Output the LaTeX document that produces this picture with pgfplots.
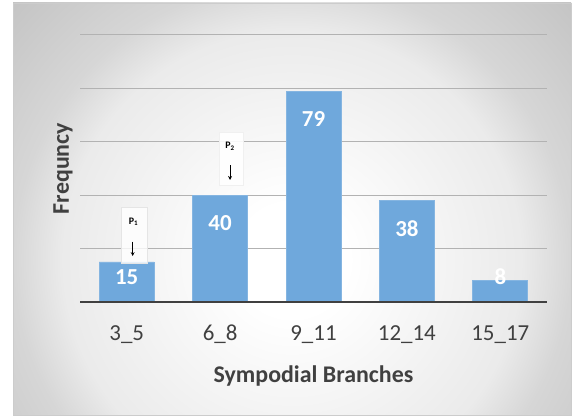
\documentclass[border=0pt]{standalone}
\usepackage{pgfplots}
\pgfplotsset{compat=1.18}
\usetikzlibrary{arrows.meta}
\usepackage{fontspec}
\setmainfont{Carlito}
\definecolor{barblue}{HTML}{6FA8DC}
\definecolor{txt}{HTML}{404040}
\pgfdeclareradialshading{bgshade}{\pgfpoint{0bp}{0bp}}{color(0bp)=(white); color(5bp)=(white); color(20.6bp)=(black!8); color(25bp)=(black!16); color(34bp)=(black!23); color(50bp)=(black!23)}
\begin{document}
\begin{tikzpicture}[x=1bp,y=1bp]
\fill[white] (0,0) rectangle (574,418);
\begin{scope}
\clip (13,3) rectangle (571,415);
\shade[shading=bgshade] (13,-121) rectangle (571,437);
\end{scope}
\draw[black!20, line width=0.8bp] (13,3) rectangle (571,415);
\begin{axis}[
  at={(80bp,116bp)}, anchor=south west,
  scale only axis, width=467bp, height=267bp,
  xmin=-0.5, xmax=4.5, ymin=0, ymax=100,
  ybar, bar width=55bp,
  xtick={0,1,2,3,4}, xticklabels={3\_5,6\_8,9\_11,12\_14,15\_17},
  ytick={20,40,60,80,100}, yticklabels={},
  major tick length=0pt,
  ymajorgrids, grid style={black!30, line width=1bp},
  axis x line=bottom, axis y line=left,
  x axis line style={draw=none}, y axis line style={draw=none},
  /pgf/number format/assume math mode=true,
  xticklabel style={font=\fontsize{23}{28}\selectfont, text=txt, anchor=north, text height=15bp, text depth=4bp, yshift=-20bp},
  xlabel={Sympodial Branches},
  xlabel style={at={(axis description cs:0.5,-0.227)}, anchor=north, font=\fontsize{24}{29}\selectfont\bfseries, text=txt},
  ylabel={Frequncy},
  ylabel style={at={(axis description cs:-0.008,0.5)}, anchor=south, font=\fontsize{24}{29}\selectfont\bfseries, text=txt},
]
\addplot[fill=barblue, draw=barblue!85!white, line width=0.8bp,
  nodes near coords,
  visualization depends on={\thisrow{dy} \as \dy},
  every node near coord/.append style={anchor=north, yshift=\dy bp, font=\fontsize{23}{28}\selectfont\bfseries, text=white}]
  table[x=x,y=y] {
  x y dy
  0 15 -4
  1 40 -16.5
  2 79 -16.5
  3 38 -16.5
  4 8 15.6
  };
\draw[txt, line width=3bp] (axis cs:-0.5,0) -- (axis cs:4.5,0);
\draw[black!10, fill=white, fill opacity=0.8] (axis cs:-0.064,14.6) rectangle (axis cs:0.217,35.6);
\node[font=\fontsize{10}{11}\selectfont\bfseries] at (axis cs:0.072,30.1) {P\textsubscript{1}};
\draw[-{Stealth[length=4bp,width=4bp]}, line width=1bp] (axis cs:0.064,22.6) -- (axis cs:0.064,17.2);
\draw[black!6, fill=white, fill opacity=0.9] (axis cs:0.988,43.8) rectangle (axis cs:1.245,63.7);
\node[font=\fontsize{10}{11}\selectfont\bfseries] at (axis cs:1.107,58.4) {P\textsubscript{2}};
\draw[-{Stealth[length=4bp,width=4bp]}, line width=1bp] (axis cs:1.107,51.3) -- (axis cs:1.107,45.7);
\end{axis}
\end{tikzpicture}
\end{document}
